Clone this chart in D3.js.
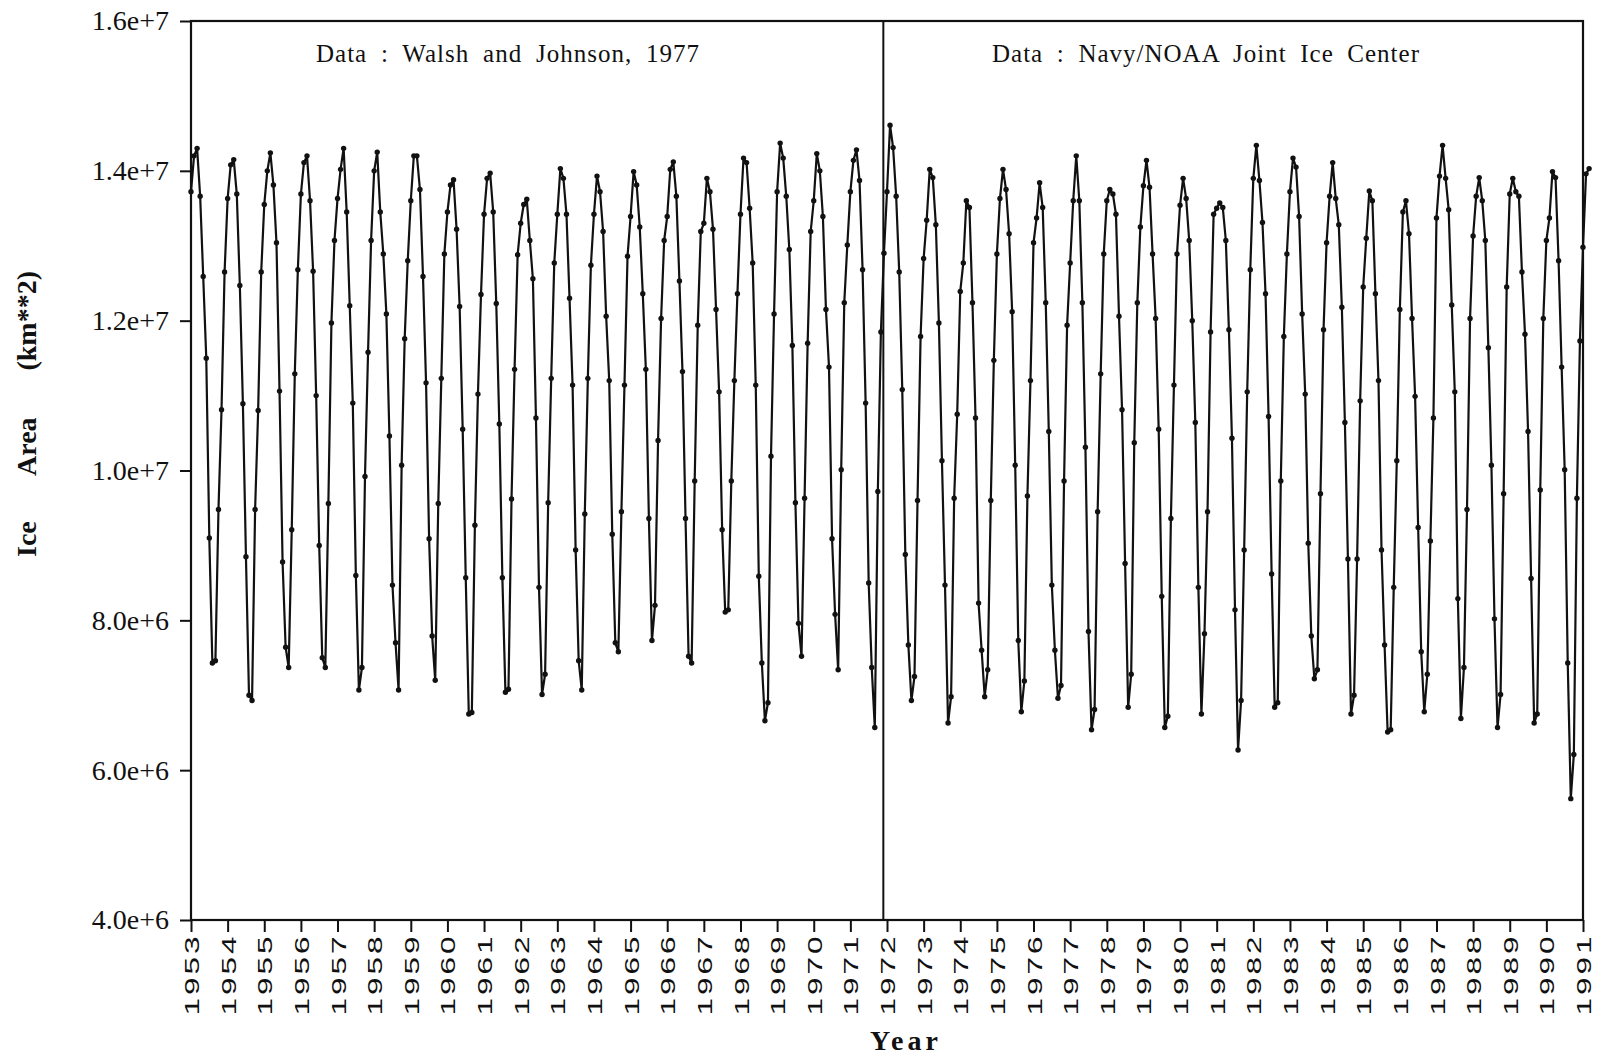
<!DOCTYPE html>
<html>
<head>
<meta charset="utf-8">
<script src="https://cdn.jsdelivr.net/npm/d3@7/dist/d3.min.js"></script>
<style>
body { margin: 0; background: #fff; }
</style>
</head>
<body>
<svg id="chart"></svg>
<script>
// monthly arctic ice area in millions of km^2, one row per year (Jan..Dec)
let walshStart = 1953;
let walshValues = [
    13.72, 14.20, 14.30, 13.66, 12.59, 11.50, 9.10, 7.43, 7.46, 9.48, 10.81, 12.65,   // 1953
    13.63, 14.08, 14.15, 13.69, 12.47, 10.89, 8.85, 7.00, 6.93, 9.48, 10.80, 12.65,   // 1954
    13.55, 14.00, 14.24, 13.81, 13.04, 11.06, 8.78, 7.64, 7.37, 9.21, 11.29, 12.68,   // 1955
    13.69, 14.11, 14.20, 13.60, 12.66, 11.00, 9.00, 7.50, 7.37, 9.56, 11.97, 13.07,   // 1956
    13.63, 14.02, 14.30, 13.45, 12.20, 10.90, 8.60, 7.07, 7.37, 9.92, 11.58, 13.07,   // 1957
    14.00, 14.25, 13.45, 12.89, 12.09, 10.46, 8.47, 7.70, 7.07, 10.07, 11.76, 12.80,  // 1958
    13.60, 14.20, 14.20, 13.75, 12.59, 11.17, 9.09, 7.79, 7.20, 9.56, 11.23, 12.89,   // 1959
    13.45, 13.81, 13.88, 13.22, 12.19, 10.55, 8.57, 6.75, 6.77, 9.27, 11.02, 12.35,   // 1960
    13.42, 13.90, 13.97, 13.45, 12.23, 10.62, 8.57, 7.04, 7.08, 9.62, 11.35, 12.88,   // 1961
    13.30, 13.55, 13.62, 13.07, 12.56, 10.70, 8.44, 7.01, 7.28, 9.57, 11.23, 12.77,   // 1962
    13.42, 14.03, 13.90, 13.42, 12.30, 11.14, 8.94, 7.46, 7.07, 9.42, 11.23, 12.74,   // 1963
    13.42, 13.93, 13.72, 13.19, 12.06, 11.20, 9.15, 7.70, 7.58, 9.45, 11.14, 12.86,   // 1964
    13.39, 13.99, 13.81, 13.25, 12.36, 11.35, 9.36, 7.73, 8.20, 10.40, 12.03, 13.07,  // 1965
    13.39, 14.02, 14.12, 13.66, 12.53, 11.32, 9.36, 7.52, 7.43, 9.86, 11.94, 13.19,   // 1966
    13.30, 13.90, 13.72, 13.22, 12.15, 11.05, 9.21, 8.11, 8.14, 9.86, 11.20, 12.36,   // 1967
    13.42, 14.17, 14.11, 13.50, 12.77, 11.14, 8.59, 7.43, 6.66, 6.90, 10.19, 12.09,   // 1968
    13.72, 14.37, 14.17, 13.66, 12.95, 11.67, 9.57, 7.96, 7.52, 9.63, 11.70, 13.19,   // 1969
    13.60, 14.23, 14.00, 13.39, 12.15, 11.38, 9.09, 8.08, 7.34, 10.01, 12.24, 13.01,  // 1970
    13.72, 14.14, 14.28, 13.87, 12.68, 10.90, 8.50, 7.37, 6.57, 9.72, 11.85, 12.90    // 1971
];

let navyStart = 1972;
let navyValues = [
    13.72, 14.61, 14.31, 13.66, 12.65, 11.08, 8.88, 7.67, 6.93, 7.25, 9.60, 11.79,    // 1972
    12.83, 13.34, 14.02, 13.91, 13.28, 11.97, 10.13, 8.47, 6.63, 6.98, 9.63, 10.75,   // 1973
    12.39, 12.77, 13.60, 13.51, 12.24, 10.70, 8.23, 7.60, 6.98, 7.34, 9.60, 11.47,    // 1974
    12.89, 13.63, 14.02, 13.75, 13.16, 12.12, 10.07, 7.73, 6.78, 7.19, 9.66, 11.20,   // 1975
    13.04, 13.37, 13.84, 13.51, 12.24, 10.52, 8.47, 7.60, 6.96, 7.13, 9.86, 11.94,    // 1976
    12.77, 13.60, 14.20, 13.60, 12.24, 10.31, 7.85, 6.54, 6.81, 9.45, 11.29, 12.89,   // 1977
    13.60, 13.75, 13.69, 13.42, 12.06, 10.81, 8.76, 6.84, 7.28, 10.37, 12.24, 13.25,  // 1978
    13.80, 14.14, 13.78, 12.89, 12.03, 10.55, 8.32, 6.57, 6.72, 9.36, 11.14, 12.89,   // 1979
    13.54, 13.90, 13.63, 13.07, 12.00, 10.64, 8.44, 6.75, 7.82, 9.45, 11.85, 13.42,   // 1980
    13.50, 13.57, 13.51, 13.07, 11.88, 10.43, 8.14, 6.27, 6.93, 8.94, 11.05, 12.68,   // 1981
    13.90, 14.34, 13.87, 13.31, 12.36, 10.72, 8.62, 6.84, 6.90, 9.86, 11.79, 12.89,   // 1982
    13.72, 14.17, 14.05, 13.39, 12.09, 11.02, 9.03, 7.79, 7.22, 7.34, 9.69, 11.88,    // 1983
    13.04, 13.66, 14.11, 13.63, 13.28, 12.18, 10.64, 8.82, 6.75, 7.00, 8.82, 10.93,   // 1984
    12.45, 13.10, 13.73, 13.60, 12.36, 11.20, 8.94, 7.67, 6.51, 6.54, 8.44, 10.13,    // 1985
    12.15, 13.45, 13.60, 13.16, 12.03, 10.99, 9.24, 7.58, 6.78, 7.28, 9.06, 10.70,    // 1986
    13.37, 13.93, 14.34, 13.90, 13.48, 12.21, 11.05, 8.29, 6.69, 7.37, 9.48, 12.03,   // 1987
    13.13, 13.66, 13.91, 13.60, 13.07, 11.64, 10.07, 8.02, 6.57, 7.01, 9.69, 12.45,   // 1988
    13.69, 13.90, 13.72, 13.66, 12.65, 11.82, 10.52, 8.56, 6.63, 6.75, 9.74, 12.03,   // 1989
    13.07, 13.37, 13.99, 13.91, 12.80, 11.38, 10.01, 7.43, 5.62, 6.21, 9.63, 11.73,   // 1990
    12.98, 13.96, 14.03                                                               // 1991
];

let yearTicks = [1953, 1954, 1955, 1956, 1957, 1958, 1959, 1960, 1961, 1962,
                 1963, 1964, 1965, 1966, 1967, 1968, 1969, 1970, 1971, 1972,
                 1973, 1974, 1975, 1976, 1977, 1978, 1979, 1980, 1981, 1982,
                 1983, 1984, 1985, 1986, 1987, 1988, 1989, 1990, 1991];
let areaTicks = [4.0e6, 6.0e6, 8.0e6, 1.0e7, 1.2e7, 1.4e7, 1.6e7];
let sourceNames = ["Data : Walsh and Johnson, 1977", "Data : Navy/NOAA Joint Ice Center"];
let dividerYear = 1971.9;

let width = 1604;
let height = 1057;
let padding = {
    top: 21,
    right: 21,
    bottom: 137,
    left: 191
};
let serif = "'Liberation Serif', 'Times New Roman', serif";

let svg = d3.select("#chart")
    .attr("width", width)
    .attr("height", height);

// spread the words of a label so it fills a given width
function fitWords(sel, target) {
    sel.each(function() {
        let gaps = this.textContent.split(" ").length - 1;
        let len = this.getComputedTextLength();
        d3.select(this).style("word-spacing", Math.max(0, (target - len) / gaps) + "px");
    });
}

let xScale = d3.scaleLinear()
    .domain([1953, 1991])
    .range([padding.left, width - padding.right]);
let yScale = d3.scaleLinear()
    .domain([4.0e6, 1.6e7])
    .range([height - padding.bottom, padding.top]);

// one record per month
let points = walshValues.map((v, i) => ({ t: walshStart + i / 12, v: v * 1e6 }))
    .concat(navyValues.map((v, i) => ({ t: navyStart + i / 12, v: v * 1e6 })));

let yAxis = d3.axisLeft(yScale)
    .tickValues(areaTicks)
    .tickFormat(d3.format(".1e"))
    .tickSize(11)
    .tickSizeOuter(0)
    .tickPadding(11);

svg.append("g")
    .classed("y-axis", true)
    .attr("transform", "translate(" + padding.left + ",0)")
    .call(yAxis);

let xAxis = d3.axisBottom(xScale)
    .tickValues(yearTicks)
    .tickFormat(d3.format("d"))
    .tickSize(12)
    .tickSizeOuter(0);

svg.append("g")
    .classed("x-axis", true)
    .attr("transform", "translate(0," + (height - padding.bottom) + ")")
    .call(xAxis);

svg.selectAll(".domain").remove();
svg.selectAll(".tick line")
    .attr("stroke", "#111")
    .attr("stroke-width", 2);

svg.select(".y-axis").selectAll("text")
    .style("font-family", serif)
    .style("font-size", "28px")
    .attr("fill", "#111");

// year labels: turned upright, stretched and spaced along the reading direction
svg.select(".x-axis").selectAll("text")
    .attr("transform", "rotate(-90) scale(1.5,1)")
    .attr("x", -9)
    .attr("y", 0)
    .attr("dy", "0.36em")
    .style("text-anchor", "end")
    .style("letter-spacing", "2px")
    .style("font-family", "'Liberation Sans', Arial, sans-serif")
    .style("font-size", "21px")
    .attr("fill", "#111");

// plot frame
svg.append("rect")
    .attr("x", padding.left)
    .attr("y", padding.top)
    .attr("width", width - padding.left - padding.right)
    .attr("height", height - padding.top - padding.bottom)
    .attr("fill", "none")
    .attr("stroke", "#111")
    .attr("stroke-width", 2.2);

svg.append("line")
    .attr("x1", xScale(dividerYear))
    .attr("x2", xScale(dividerYear))
    .attr("y1", padding.top)
    .attr("y2", height - padding.bottom)
    .attr("stroke", "#111")
    .attr("stroke-width", 2);

let line = d3.line()
    .x(d => xScale(d.t))
    .y(d => yScale(d.v));

svg.append("path")
    .datum(points)
    .attr("d", line)
    .attr("fill", "none")
    .attr("stroke", "#111")
    .attr("stroke-width", 2.2)
    .attr("stroke-linejoin", "round");

svg.selectAll(".pt")
    .data(points)
    .enter()
    .append("circle")
        .classed("pt", true)
        .attr("cx", d => xScale(d.t))
        .attr("cy", d => yScale(d.v))
        .attr("r", 2.7)
        .attr("fill", "#111");

// data source captions
let captionX = [508, 1206];
let captionW = [384, 428];
let captions = svg.selectAll(".caption")
    .data(sourceNames)
    .enter()
    .append("text")
        .classed("caption", true)
        .attr("x", (d, i) => captionX[i])
        .attr("y", 62)
        .style("text-anchor", "middle")
        .style("letter-spacing", "1px")
        .style("font-family", serif)
        .style("font-size", "25px")
        .attr("fill", "#111")
        .text(d => d);
captions.each(function(d, i) { fitWords(d3.select(this), captionW[i]); });

let yTitle = svg.append("text")
    .attr("transform", "rotate(-90)")
    .attr("x", -414)
    .attr("y", 36)
    .style("text-anchor", "middle")
    .style("font-family", serif)
    .style("font-size", "28px")
    .style("font-weight", "bold")
    .attr("fill", "#111")
    .text("Ice Area (km**2)");
fitWords(yTitle, 286);

svg.append("text")
    .attr("x", 906)
    .attr("y", 1050)
    .style("text-anchor", "middle")
    .style("letter-spacing", "4px")
    .style("font-family", serif)
    .style("font-size", "28px")
    .style("font-weight", "bold")
    .attr("fill", "#111")
    .text("Year");
</script>
</body>
</html>
